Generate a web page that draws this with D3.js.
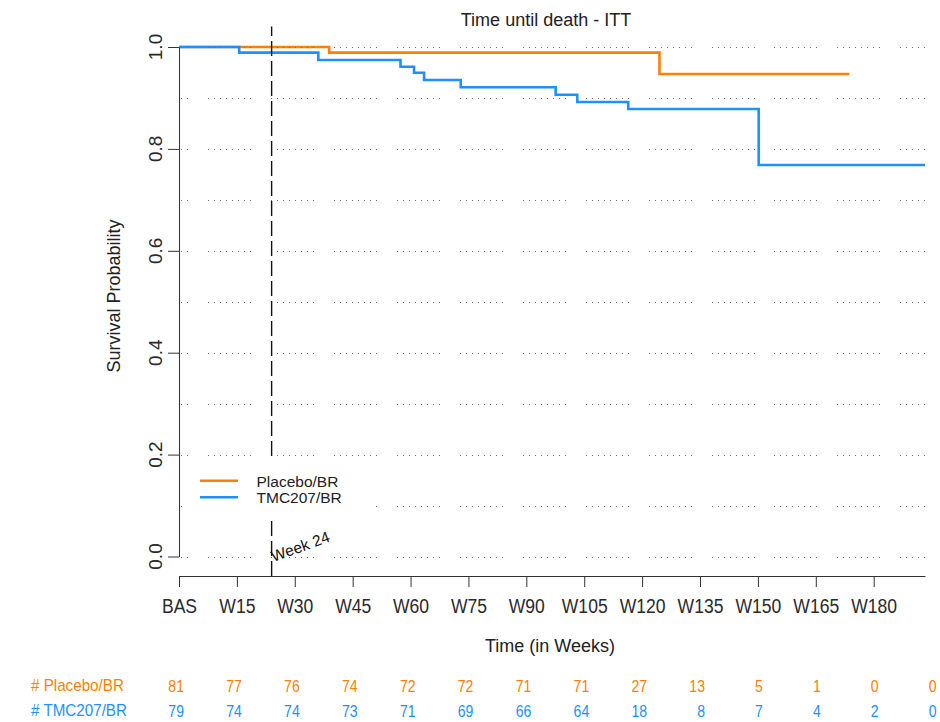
<!DOCTYPE html>
<html>
<head>
<meta charset="utf-8">
<script src="https://cdn.jsdelivr.net/npm/d3@7"></script>
<style>
  html, body { margin: 0; padding: 0; background: #fff; }
  svg { display: block; font-family: "Liberation Sans", Arial, sans-serif; }
</style>
</head>
<body>
<svg id="chart" width="940" height="722"></svg>
<script>
// Kaplan-Meier step data (time in weeks, survival probability)
const placeboTimes = [0, 38.9, 124.5];
const placeboSurv  = [1.0, 0.989, 0.947];
const placeboEnd   = 173.7;

const tmcTimes = [0, 15.6, 36.1, 57.4, 60.9, 63.5, 73.0, 97.6, 103.2, 116.4, 150.2];
const tmcSurv  = [1.0, 0.989, 0.9745, 0.9613, 0.9496, 0.9352, 0.9209, 0.9064, 0.892, 0.8783, 0.7684];
const tmcEnd   = 193.3;

// Axis ticks and labels
const weekTicks  = [0, 15, 30, 45, 60, 75, 90, 105, 120, 135, 150, 165, 180];
const weekLabels = ["BAS", "W15", "W30", "W45", "W60", "W75", "W90", "W105", "W120", "W135", "W150", "W165", "W180"];
const probTicks  = [0, 0.2, 0.4, 0.6, 0.8, 1.0];
const gridLevels = [0, 0.1, 0.2, 0.3, 0.4, 0.5, 0.6, 0.7, 0.8, 0.9, 1.0];
const markerWeek = 24;

// Number at risk table
const riskWeeks      = [0, 15, 30, 45, 60, 75, 90, 105, 120, 135, 150, 165, 180, 195];
const placeboAtRisk  = [81, 77, 76, 74, 72, 72, 71, 71, 27, 13, 5, 1, 0, 0];
const tmcAtRisk      = [79, 74, 74, 73, 71, 69, 66, 64, 18, 8, 7, 4, 2, 0];

const groups = ["Placebo/BR", "TMC207/BR"];
const colors = ["#FF7F00", "#1E90FF"];

const svg = d3.select("#chart");

const x = d3.scaleLinear().domain([0, 193.3]).range([179, 925]);
const y = d3.scaleLinear().domain([0, 1]).range([556.5, 47]);

// Survival curves
const step = d3.line().x(d => x(d[0])).y(d => y(d[1])).curve(d3.curveStepAfter);
function pts(times, surv, end) {
  const p = times.map((t, i) => [t, surv[i]]);
  p.push([end, surv[surv.length - 1]]);
  return p;
}
const curves = [pts(placeboTimes, placeboSurv, placeboEnd), pts(tmcTimes, tmcSurv, tmcEnd)];
curves.forEach((c, i) => {
  svg.append("path").datum(c)
    .attr("d", step)
    .attr("fill", "none")
    .attr("stroke", colors[i])
    .attr("stroke-width", 2.6);
});

// Dotted horizontal grid
const dotPattern = d3.range(7).map(() => "1,5").join(",") + ",1,19.9";
svg.append("g").selectAll("line").data(gridLevels).join("line")
  .attr("x1", x(0)).attr("x2", 927)
  .attr("y1", d => Math.round(y(d)) + 0.5)
  .attr("y2", d => Math.round(y(d)) + 0.5)
  .attr("stroke", "#6e6e6e")
  .attr("stroke-width", 1)
  .attr("stroke-dasharray", dotPattern)
  .attr("stroke-dashoffset", 33.6)
  .attr("shape-rendering", "crispEdges");

// Week 24 reference line
svg.append("line")
  .attr("x1", x(markerWeek)).attr("x2", x(markerWeek))
  .attr("y1", 576).attr("y2", 26.5)
  .attr("stroke", "#111")
  .attr("stroke-width", 1.4)
  .attr("stroke-dasharray", "15,5");

// Legend
svg.append("rect").attr("x", 183).attr("y", 459).attr("width", 189).attr("height", 58).attr("fill", "#fff");
const legend = svg.append("g");
groups.forEach((g, i) => {
  const ly = 480.7 + i * 16.6;
  legend.append("line").attr("x1", 200).attr("x2", 238).attr("y1", ly).attr("y2", ly)
    .attr("stroke", colors[i]).attr("stroke-width", 2.6);
  legend.append("text").attr("x", 256.5).attr("y", ly + 6)
    .attr("font-size", 15.5).attr("fill", "#222").text(g);
});

svg.append("text")
  .attr("transform", `translate(${x(markerWeek) + 2},562) rotate(-20)`)
  .attr("font-size", 15.5).attr("fill", "#111")
  .text("Week 24");

// Axes
const xAxis = svg.append("g").attr("transform", "translate(0,576)")
  .call(d3.axisBottom(x).tickValues(weekTicks).tickSize(11).tickSizeOuter(0)
    .tickFormat((d, i) => weekLabels[i]));
xAxis.select(".domain").attr("stroke", "#333");
xAxis.selectAll(".tick line").attr("stroke", "#333");
xAxis.selectAll(".tick text")
  .attr("y", 37).attr("dy", null)
  .attr("font-size", 19.5).attr("font-family", "Liberation Sans, Arial, sans-serif")
  .attr("fill", "#2a2a2a")
  .attr("transform", "scale(0.9,1)");

const yAxis = svg.append("g").attr("transform", "translate(179,0)")
  .call(d3.axisLeft(y).tickValues(probTicks).tickSize(11).tickSizeOuter(0).tickFormat(""));
yAxis.select(".domain").attr("stroke", "#333");
yAxis.selectAll(".tick line").attr("stroke", "#333");
svg.append("g").selectAll("text").data(probTicks).join("text")
  .attr("transform", d => `translate(161.5,${y(d)}) rotate(-90)`)
  .attr("text-anchor", "middle")
  .attr("font-size", 19).attr("fill", "#2a2a2a")
  .text(d => d3.format(".1f")(d));

// Titles
svg.append("text").attr("x", 546).attr("y", 26).attr("text-anchor", "middle")
  .attr("font-size", 18).attr("fill", "#222").text("Time until death - ITT");
svg.append("text").attr("x", 550).attr("y", 652).attr("text-anchor", "middle")
  .attr("font-size", 18).attr("fill", "#222").text("Time (in Weeks)");
svg.append("text").attr("transform", "translate(120,296) rotate(-90)").attr("text-anchor", "middle")
  .attr("font-size", 18).attr("fill", "#222").text("Survival Probability");

// At-risk table
const riskRows = [placeboAtRisk, tmcAtRisk];
riskRows.forEach((row, r) => {
  const by = 691.5 + r * 25;
  svg.append("text").attr("x", 31).attr("y", by)
    .attr("font-size", 16).attr("fill", colors[r])
    .attr("transform", `translate(31,0) scale(0.95,1) translate(-31,0)`)
    .text("# " + groups[r]);
  svg.append("g").selectAll("text").data(row).join("text")
    .attr("transform", (d, i) => `translate(${x(riskWeeks[i]) + 5},${by}) scale(0.88,1)`)
    .attr("text-anchor", "end")
    .attr("font-size", 16).attr("fill", colors[r])
    .text(d => d);
});
</script>
</body>
</html>
